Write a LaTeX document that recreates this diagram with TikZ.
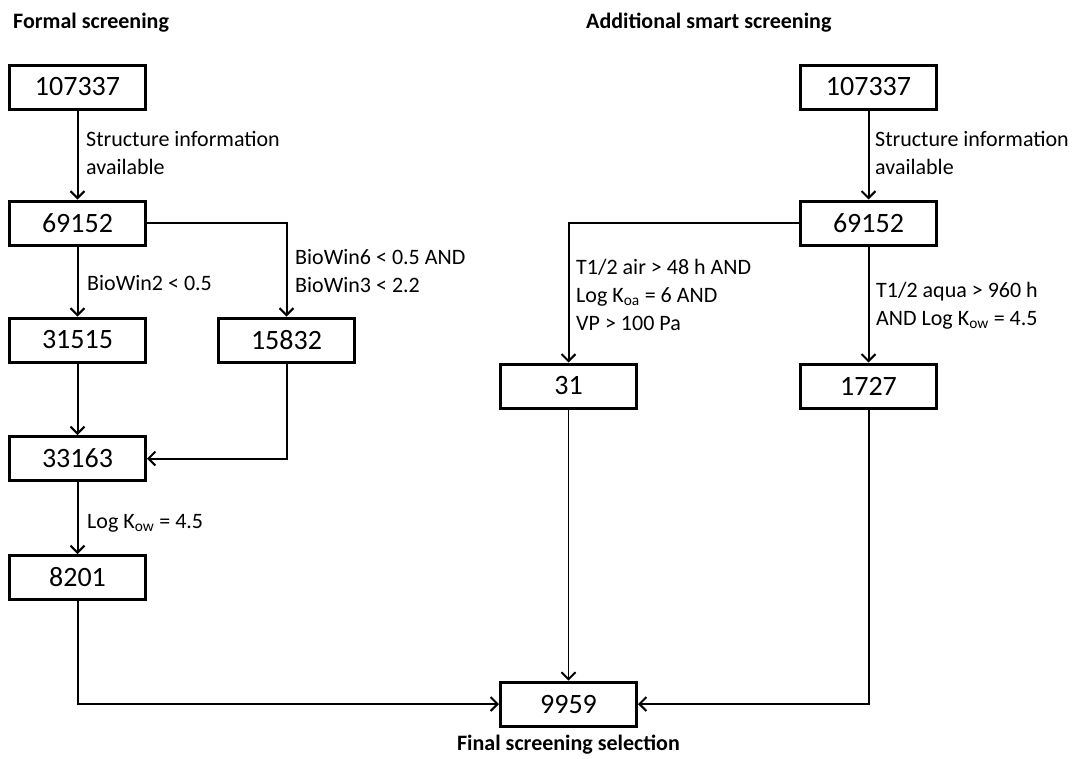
\documentclass[tikz,border=0pt]{standalone}
\usepackage{fontspec}
\setmainfont{Carlito}
\usetikzlibrary{arrows.meta}
\begin{document}
\begin{tikzpicture}[x=1pt,y=-1pt,
  numbox/.style={draw,line width=3pt,minimum width=136pt,minimum height=44pt,inner sep=0pt,
    font=\fontsize{28}{32}\selectfont},
  lbl/.style={anchor=west,align=left,inner sep=0pt,font=\fontsize{22}{28}\selectfont},
  ttl/.style={anchor=west,inner sep=0pt,font=\fontsize{22}{26}\selectfont\bfseries},
  conn/.style={line width=2pt,-{Straight Barb[length=7pt,width=14pt,line width=2pt]}},
  thinconn/.style={line width=1.3pt,-{Straight Barb[length=7pt,width=14pt,line width=1.8pt]}}]
\useasboundingbox (0,0) rectangle (1084,758);
% titles
\node[ttl] (t1) at (13,23) {Formal screening};
\node[ttl] (t2) at (586,23) {Additional smart screening};
% left column
\node[numbox] (a1) at (77.5,87) {107337};
\node[numbox] (a2) at (77.5,223) {69152};
\node[numbox] (a3) at (77.5,340) {31515};
\node[numbox] (a4) at (286.5,340) {15832};
\node[numbox] (a5) at (77.5,458.5) {33163};
\node[numbox] (a6) at (77.5,577.5) {8201};
% right column
\node[numbox] (b1) at (868.5,87) {107337};
\node[numbox] (b2) at (868.5,223) {69152};
\node[numbox] (b3) at (568.5,386) {31};
\node[numbox] (b4) at (868.5,386) {1727};
% final
\node[numbox] (f) at (568.5,704) {9959};
\node[anchor=center,inner sep=0pt,font=\fontsize{22}{26}\selectfont\bfseries] (fl) at (568.5,745) {Final screening selection};
% labels
\node[lbl] (l1) at (86,153) {Structure information\\available};
\node[lbl] (l2) at (87,283) {BioWin2 < 0.5};
\node[lbl] (l3) at (295,271) {BioWin6 < 0.5 AND\\BioWin3 < 2.2};
\node[lbl] (l4) at (87,523) {Log K\textsubscript{ow} = 4.5};
\node[lbl] (r1) at (875,153) {Structure information\\available};
\node[lbl] (r2) at (576,295) {T1/2 air > 48 h AND\\Log K\textsubscript{oa} = 6 AND\\VP > 100 Pa};
\node[lbl] (r3) at (876,306) {T1/2 aqua > 960 h\\AND Log K\textsubscript{ow} = 4.5};
% connectors left
\draw[conn] (a1) -- (a2);
\draw[conn] (a2) -- (a3);
\draw[conn] (a2.east) -| (a4.north);
\draw[conn] (a3) -- (a5);
\draw[conn] (a4.south) |- (a5.east);
\draw[conn] (a5) -- (a6);
\draw[conn] (a6.south) |- (f.west);
% connectors right
\draw[conn] (b1) -- (b2);
\draw[conn] (b2) -- (b4);
\draw[conn] (b2.west) -| (b3.north);
\draw[thinconn] (b3) -- (f);
\draw[conn] (b4.south) |- (f.east);
\end{tikzpicture}
\end{document}
